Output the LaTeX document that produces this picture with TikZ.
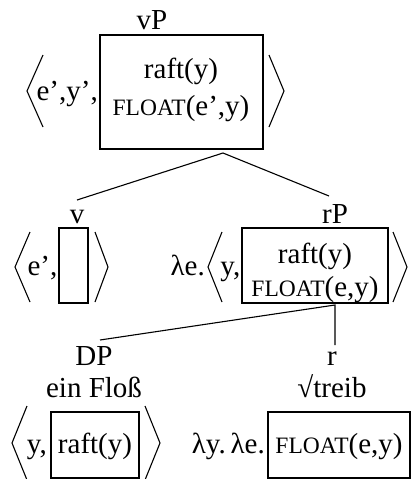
\documentclass[tikz,border=0pt]{standalone}
\usepackage{fontspec}
\setmainfont{Liberation Serif}
\newcommand{\flt}{{\fontsize{23.5}{24}\selectfont FLOAT}}
\begin{document}
\begin{tikzpicture}[x=1pt,y=-1pt,
  txt/.style={anchor=base,inner sep=0pt,font=\fontsize{29}{31}\selectfont},
  txte/.style={txt,anchor=base east},
  semb/.style={draw,line width=1.3pt,inner sep=0pt},
  brk/.style={line width=1.1pt},
  edge/.style={line width=1.1pt}]
\useasboundingbox (0,0) rectangle (412,479);
% boxes
\node[semb,minimum width=163pt,minimum height=114pt] (box1) at (181.5,92) {};
\node[semb,minimum width=29pt,minimum height=75pt] (boxv) at (73.5,265.5) {};
\node[semb,minimum width=146pt,minimum height=75pt] (boxr) at (315,265.5) {};
\node[semb,minimum width=88pt,minimum height=66pt] (boxdp) at (95,445) {};
\node[semb,minimum width=142pt,minimum height=66pt] (boxfl) at (339,445) {};
% vP
\node[txt] (vP) at (152,29) {vP};
\node[txt] (raft1) at (181,78) {raft(y)};
\node[txt] (float1) at (181,115) {\flt(e’,y)};
\node[txte] (ey) at (98,100) {e’,y’,};
\draw[brk] (43,55) -- (27,91) -- (43,127);
\draw[brk] (269,55) -- (284,91) -- (269,127);
% v
\node[txt] (v) at (77,223) {v};
\node[txte] (e) at (57.5,275) {e’,};
\draw[brk] (30,232) -- (15,267) -- (30,302);
\draw[brk] (95,232) -- (108,267) -- (95,302);
% rP
\node[txt] (rP) at (335,223) {rP};
\node[txte] (lame) at (205,275) {λe.};
\node[txte] (y2) at (240.5,275) {y,};
\node[txt] (raft2) at (315,263) {raft(y)};
\node[txt] (float2) at (315,296) {\flt(e,y)};
\draw[brk] (222,232) -- (208,267) -- (222,302);
\draw[brk] (393,232) -- (407,267) -- (393,302);
% DP
\node[txt] (DP) at (94,365) {DP};
\node[txt] (ein) at (94,397) {ein Floß};
\node[txte] (y3) at (47,453) {y,};
\node[txt] (raft3) at (95,453) {raft(y)};
\draw[brk] (27,406) -- (12,443) -- (27,480);
\draw[brk] (145,406) -- (160,443) -- (145,480);
% r
\node[txt] (r) at (332,365) {r};
\node[txt] (treib) at (332,397) {√treib};
\node[txte] (lamye) at (265,453) {λy.\,λe.};
\node[txt] (float3) at (339,453) {\flt(e,y)};
% tree edges
\coordinate (apex1) at (223,153);
\coordinate (vtop) at (77,200);
\coordinate (rPtop) at (329,196);
\coordinate (apex2) at (335,305);
\coordinate (DPtop) at (100,340);
\coordinate (rtop) at (335,345);
\draw[edge] (vtop) -- (apex1) -- (rPtop);
\draw[edge] (DPtop) -- (apex2) -- (rtop);
\end{tikzpicture}
\end{document}
